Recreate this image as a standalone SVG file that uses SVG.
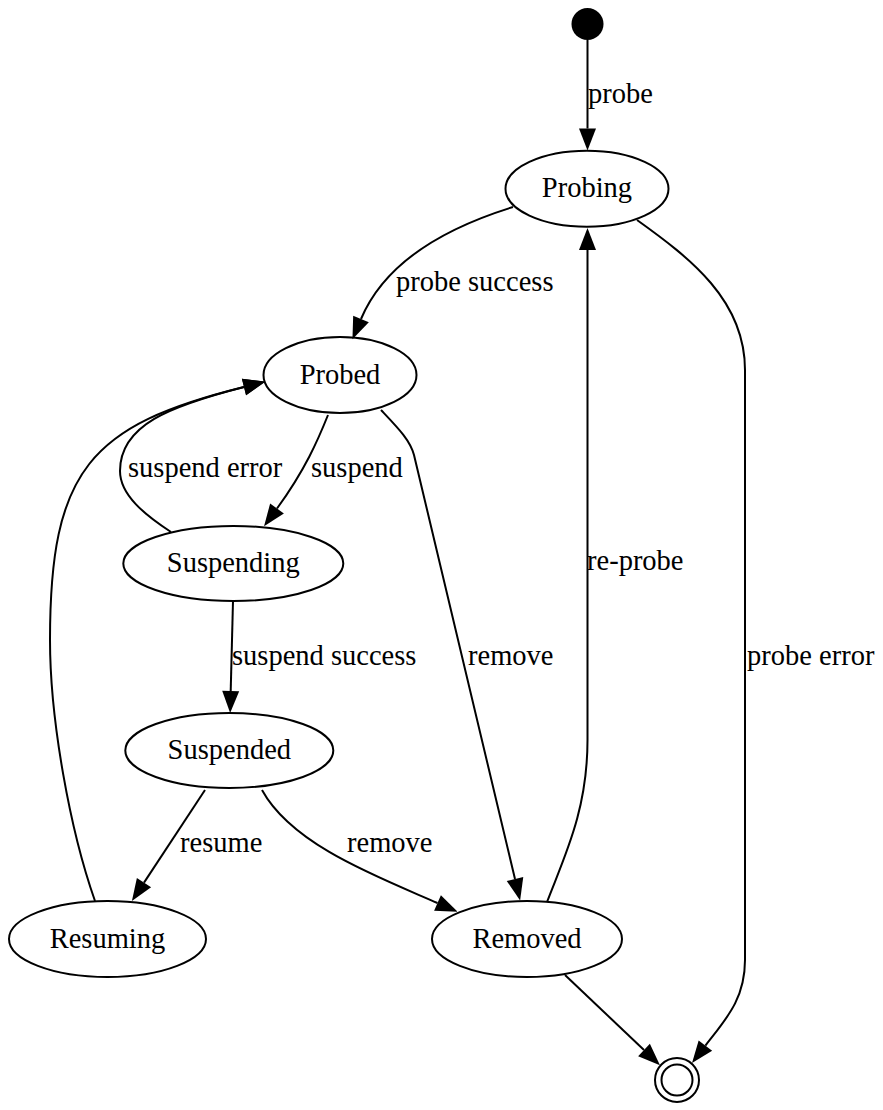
<svg xmlns="http://www.w3.org/2000/svg" width="883" height="1110" viewBox="0 0 883 1110">
<defs>
<style>
.node ellipse, .node circle.ring { fill: none; stroke: #000; stroke-width: 2; }
.lbl { font-family: "Liberation Serif", "Times New Roman", serif; font-size: 28.5px; fill: #000; }
.ntext { text-anchor: middle; }
.edge path { fill: none; stroke: #000; stroke-width: 2; marker-end: url(#ah); }
</style>
<marker id="ah" markerUnits="userSpaceOnUse" markerWidth="24" markerHeight="20" refX="0" refY="10" orient="auto" overflow="visible">
<path d="M0,1.5 L22,10 L0,18.5 z" fill="#000" stroke="none"/>
</marker>
</defs>
<rect x="0" y="0" width="883" height="1110" fill="#fff"/>

<g id="connectors">
<g class="edge" id="e-start-probing"><path d="M587.5,40 L587.5,128.5"/><text class="lbl" x="588" y="103">probe</text></g>
<g class="edge" id="e-probing-probed"><path d="M513,207 C445,228 385,262 361,319"/><text class="lbl" x="396" y="291">probe success</text></g>
<g class="edge" id="e-probing-end"><path d="M637,220 C690,258 745,300 745,370 L745,960 C745,1000 725,1020 705.4,1045.6"/><text class="lbl" x="747" y="665">probe error</text></g>
<g class="edge" id="e-probed-suspending"><path d="M328,415 C318,440 305,470 277,508.5"/><text class="lbl" x="311" y="477">suspend</text></g>
<g class="edge" id="e-probed-removed"><path d="M381,410 C398,428 410,440 414,455 L515,879"/><text class="lbl" x="468" y="665">remove</text></g>
<g class="edge" id="e-suspending-probed"><path d="M171,532 C145,515 120,495 120,471 C120,425 170,406 244,387"/><text class="lbl" x="128" y="477">suspend error</text></g>
<g class="edge" id="e-suspending-suspended"><path d="M233,601 L230.7,691"/><text class="lbl" x="232" y="665">suspend success</text></g>
<g class="edge" id="e-suspended-resuming"><path d="M205,790 L144,882.6"/><text class="lbl" x="180" y="852">resume</text></g>
<g class="edge" id="e-suspended-removed"><path d="M262,790 C292,845 378,877 437.5,903"/><text class="lbl" x="347" y="852">remove</text></g>
<g class="edge" id="e-resuming-probed"><path d="M95,901 C70,830 50,720 50,640 C50,470 90,425 244,387"/></g>
<g class="edge" id="e-removed-probing"><path d="M547,902 C565,855 587.5,810 587.5,740 L587.5,250"/><text class="lbl" x="587" y="570">re-probe</text></g>
<g class="edge" id="e-removed-end"><path d="M565,975 L644,1050"/></g>
</g>

<g class="node" id="start"><circle cx="587.5" cy="24" r="16" fill="#000"/></g>
<g class="node" id="probing"><ellipse cx="587" cy="188.7" rx="81.5" ry="38"/><text class="lbl ntext" x="587" y="197">Probing</text></g>
<g class="node" id="probed"><ellipse cx="340" cy="375" rx="76.5" ry="38"/><text class="lbl ntext" x="340" y="383.5">Probed</text></g>
<g class="node" id="suspending"><ellipse cx="233.3" cy="563.5" rx="110" ry="37.5"/><text class="lbl ntext" x="233.3" y="572">Suspending</text></g>
<g class="node" id="suspended"><ellipse cx="229.3" cy="750.5" rx="104" ry="37.5"/><text class="lbl ntext" x="229.3" y="759">Suspended</text></g>
<g class="node" id="resuming"><ellipse cx="107.5" cy="939" rx="98.5" ry="38"/><text class="lbl ntext" x="107.5" y="947.5">Resuming</text></g>
<g class="node" id="removed"><ellipse cx="527" cy="939" rx="95" ry="38"/><text class="lbl ntext" x="527" y="947.5">Removed</text></g>
<g class="node" id="end"><circle class="ring" cx="677" cy="1080" r="22"/><circle class="ring" cx="677" cy="1080" r="15.5"/></g>
</svg>
